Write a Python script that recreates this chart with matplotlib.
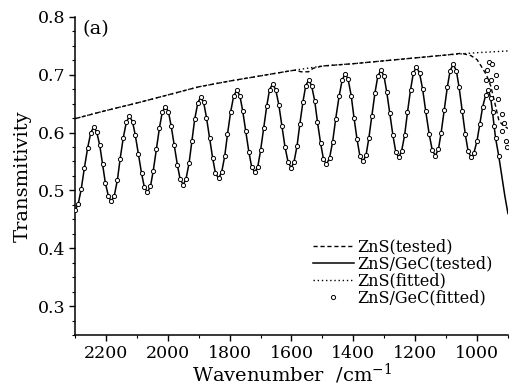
import numpy as np
import matplotlib
matplotlib.use("Agg")
import matplotlib.pyplot as plt
from matplotlib.ticker import MultipleLocator

plt.rcParams['font.family'] = 'DejaVu Serif'
plt.rcParams['mathtext.fontset'] = 'dejavuserif'

# ZnS substrate, tested and fitted (wavenumber in cm^-1)
wn_zns = [2300, 2200, 2100, 2000, 1900, 1800, 1700, 1600, 1585, 1570, 1545, 1530,
          1500, 1400, 1300, 1200, 1100, 1050, 1020, 1000, 988, 970, 956, 942,
          929, 915, 900]
t_zns = [0.624, 0.638, 0.651, 0.665, 0.679, 0.689, 0.698, 0.707, 0.708, 0.705,
         0.705, 0.711, 0.715, 0.719, 0.724, 0.729, 0.734, 0.737, 0.733, 0.726,
         0.716, 0.700, 0.681, 0.650, 0.620, 0.612, 0.607]

wn_zns_fit = [2300, 2200, 2100, 2000, 1900, 1800, 1700, 1600, 1500, 1400, 1300,
              1200, 1100, 1000, 900]
t_zns_fit = [0.624, 0.638, 0.651, 0.665, 0.679, 0.689, 0.698, 0.707, 0.715,
             0.719, 0.724, 0.729, 0.734, 0.738, 0.741]

# ZnS/GeC film, tested
wn_gec = [2300, 2290, 2280, 2270, 2259, 2249, 2239,
          2230, 2220, 2211, 2202, 2192, 2183,
          2173, 2163, 2154, 2144, 2134, 2124,
          2114, 2105, 2095, 2085, 2076, 2066,
          2056, 2047, 2037, 2027, 2018, 2008,
          1998, 1989, 1979, 1969, 1960, 1950,
          1941, 1931, 1922, 1913, 1903, 1894,
          1884, 1875, 1865, 1855, 1846, 1836,
          1826, 1816, 1807, 1797, 1787, 1777,
          1767, 1758, 1748, 1738, 1729, 1719,
          1709, 1700, 1690, 1680, 1671, 1661,
          1651, 1641, 1631, 1621, 1611, 1601,
          1592, 1582, 1573, 1563, 1554, 1544,
          1535, 1525, 1516, 1506, 1497, 1487,
          1477, 1467, 1457, 1446, 1436, 1426,
          1417, 1407, 1398, 1388, 1379, 1369,
          1359, 1350, 1340, 1330, 1321, 1311,
          1301, 1292, 1282, 1272, 1263, 1253,
          1244, 1234, 1225, 1215, 1206, 1196,
          1186, 1176, 1166, 1155, 1145, 1135,
          1125, 1116, 1106, 1096, 1087, 1077,
          1067, 1058, 1048, 1038, 1029, 1019,
          1010, 1000, 991, 982, 972, 963,
          956, 950, 945, 940, 930, 920, 910, 900]
t_gec = [0.466, 0.476, 0.502, 0.538, 0.574, 0.600, 0.610,
         0.601, 0.578, 0.546, 0.513, 0.490, 0.481,
         0.491, 0.518, 0.555, 0.591, 0.618, 0.628,
         0.619, 0.595, 0.563, 0.530, 0.506, 0.497,
         0.507, 0.534, 0.571, 0.608, 0.635, 0.645,
         0.636, 0.611, 0.578, 0.544, 0.519, 0.510,
         0.520, 0.548, 0.586, 0.623, 0.651, 0.661,
         0.652, 0.626, 0.591, 0.556, 0.530, 0.521,
         0.531, 0.559, 0.597, 0.635, 0.663, 0.673,
         0.664, 0.638, 0.602, 0.567, 0.541, 0.531,
         0.541, 0.569, 0.608, 0.646, 0.674, 0.684,
         0.674, 0.648, 0.612, 0.575, 0.549, 0.539,
         0.549, 0.577, 0.615, 0.653, 0.681, 0.691,
         0.681, 0.655, 0.618, 0.582, 0.555, 0.545,
         0.556, 0.584, 0.624, 0.663, 0.691, 0.702,
         0.692, 0.664, 0.626, 0.588, 0.560, 0.550,
         0.561, 0.590, 0.629, 0.669, 0.697, 0.708,
         0.698, 0.670, 0.633, 0.595, 0.567, 0.557,
         0.568, 0.596, 0.635, 0.674, 0.703, 0.713,
         0.703, 0.675, 0.637, 0.598, 0.570, 0.560,
         0.571, 0.600, 0.639, 0.679, 0.707, 0.718,
         0.707, 0.678, 0.638, 0.597, 0.568, 0.557,
         0.565, 0.586, 0.615, 0.644, 0.665, 0.673,
         0.660, 0.636, 0.612, 0.590, 0.560, 0.525, 0.490, 0.460]

# ZnS/GeC fitted: same as tested down to 972 cm^-1, then scattered points
n_common = 144
wn_gec_fit_end = [967, 961, 953, 970, 956, 940, 940, 931, 918, 913, 918, 907, 902]
t_gec_fit_end = [0.708, 0.722, 0.718, 0.691, 0.690, 0.699, 0.679, 0.658, 0.632,
                 0.616, 0.603, 0.586, 0.575]

wn_gec_fit = wn_gec[:n_common] + wn_gec_fit_end
t_gec_fit = t_gec[:n_common] + t_gec_fit_end

fig = plt.figure(figsize=(5.21, 3.91), dpi=100)
ax = fig.add_axes([0.144, 0.143, 0.831, 0.814])

ax.plot(wn_zns_fit, t_zns_fit, color='black', lw=1.0, ls=(0, (1, 2)),
        label='ZnS(fitted)', zorder=2)
ax.plot(wn_zns, t_zns, color='black', lw=1.0, ls=(0, (3, 2)),
        label='ZnS(tested)', zorder=3)
ax.plot(wn_gec, t_gec, color='black', lw=1.1, label='ZnS/GeC(tested)', zorder=3)
ax.plot(wn_gec_fit, t_gec_fit, ls='none', marker='o', ms=3.0, mfc='white',
        mec='black', mew=0.7, label='ZnS/GeC(fitted)', zorder=4)

ax.set_xlim(2300, 900)
ax.set_ylim(0.25, 0.8)
ax.xaxis.set_minor_locator(MultipleLocator(100))
ax.yaxis.set_minor_locator(MultipleLocator(0.025))
ax.set_xticks([2200, 2000, 1800, 1600, 1400, 1200, 1000])
ax.set_yticks([0.3, 0.4, 0.5, 0.6, 0.7, 0.8])

for s in ['top', 'right']:
    ax.spines[s].set_visible(False)
for s in ['left', 'bottom']:
    ax.spines[s].set_linewidth(1.1)

ax.tick_params(which='major', direction='out', length=4, width=1, labelsize=12.5, pad=3)
ax.tick_params(which='minor', direction='out', length=2.5, width=0.8)

ax.set_xlabel(r'Wavenumber  /cm$^{-1}$', fontsize=14, labelpad=0)
ax.set_ylabel('Transmitivity', fontsize=14, labelpad=4)
ax.text(0.018, 0.99, '(a)', transform=ax.transAxes, fontsize=14, va='top', ha='left')

h, l = ax.get_legend_handles_labels()
order = [1, 2, 0, 3]
ax.legend([h[i] for i in order], [l[i] for i in order],
          loc='upper left', bbox_to_anchor=(0.600, 0.390),
          bbox_transform=fig.transFigure, frameon=False, fontsize=11.5,
          borderpad=0, borderaxespad=0, handlelength=2.6, handletextpad=0.2,
          labelspacing=0.0, numpoints=1)

fig.savefig('out.png', dpi=100)
